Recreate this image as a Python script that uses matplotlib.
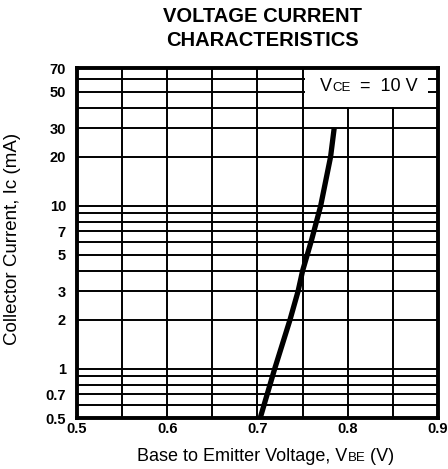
import numpy as np
import matplotlib
matplotlib.use("Agg")
import matplotlib.pyplot as plt
from matplotlib.ticker import FixedLocator, NullFormatter
from matplotlib.patches import Rectangle
from matplotlib.offsetbox import TextArea, HPacker, AnnotationBbox

plt.rcParams['font.family'] = ['Liberation Sans', 'DejaVu Sans']

# curve: base-emitter voltage (V) vs collector current (mA)
vbe = [0.703, 0.719, 0.736, 0.745, 0.750, 0.760, 0.770, 0.781, 0.785]
ic = [0.5, 1, 2, 3, 4, 6.2, 10, 20, 30]

x_labels = [0.5, 0.6, 0.7, 0.8, 0.9]
x_minor = [0.55, 0.65, 0.75, 0.85]
y_labels = [0.5, 0.7, 1, 2, 3, 5, 7, 10, 20, 30, 50, 70]
y_grid = [0.6, 0.8, 0.9, 4, 6, 8, 9, 40, 60]

W, H = 448, 469
fig = plt.figure(figsize=(W / 100, H / 100), dpi=100)
ax = fig.add_axes([77 / W, 1 - 418 / H, 361 / W, 350 / H])

ax.set_yscale("log")
ax.set_xlim(0.5, 0.9)
ax.set_ylim(0.5, 70)

ax.xaxis.set_major_locator(FixedLocator(x_labels))
ax.xaxis.set_minor_locator(FixedLocator(x_minor))
ax.yaxis.set_major_locator(FixedLocator(y_labels))
ax.yaxis.set_minor_locator(FixedLocator(y_grid))
ax.yaxis.set_minor_formatter(NullFormatter())
ax.set_xticklabels([f"{v:g}" for v in x_labels], fontweight="bold", fontsize=10.5)
ax.set_yticklabels([f"{v:g}" for v in y_labels], fontweight="bold", fontsize=10.5)
ax.tick_params(which="both", length=0)
ax.tick_params(axis="y", pad=8)
ax.tick_params(axis="x", pad=3)
ax.grid(which="both", color="black", linewidth=1.4)
ax.set_axisbelow(True)

for s in ax.spines.values():
    s.set_linewidth(2.8)

ax.plot(vbe, ic, color="black", linewidth=3.8, solid_capstyle="butt", zorder=3)


def small_caps_label(parts, xy, xycoords, align):
    # parts: (text, size) pieces laid side by side on a common baseline
    kids = [TextArea(t, textprops=dict(fontsize=s, color="black")) for t, s in parts]
    box = HPacker(children=kids, align="baseline", pad=0, sep=0)
    ab = AnnotationBbox(box, xy, xycoords=xycoords, frameon=False,
                        box_alignment=align, zorder=5)
    return ab


# white box holding the VCE note
ax.add_patch(Rectangle((0.753, 40.6), 0.136, 29.4, facecolor="white",
                       edgecolor="none", zorder=2))
ax.add_artist(small_caps_label([("V", 13), ("CE", 9.5), ("  =  10 V", 13)],
                               (0.673, 0.946), "axes fraction", (0, 0.5)))

fig.text(0.585, 1 - 17 / H, "VOLTAGE CURRENT", ha="center", va="center",
         fontsize=14.5, fontweight="bold")
fig.text(0.585, 1 - 40 / H, "CHARACTERISTICS", ha="center", va="center",
         fontsize=14.5, fontweight="bold")

fig.add_artist(small_caps_label([("Base to Emitter Voltage, V", 13), ("BE", 9.5), (" (V)", 13)],
                                (266 / W, 1 - 456 / H), "figure fraction", (0.5, 0.5)))
fig.text(13 / W, 1 - 239 / H, "Collector Current, Ic (mA)", rotation=90,
         ha="center", va="center", fontsize=13.5)

fig.savefig("out.png", dpi=100)
